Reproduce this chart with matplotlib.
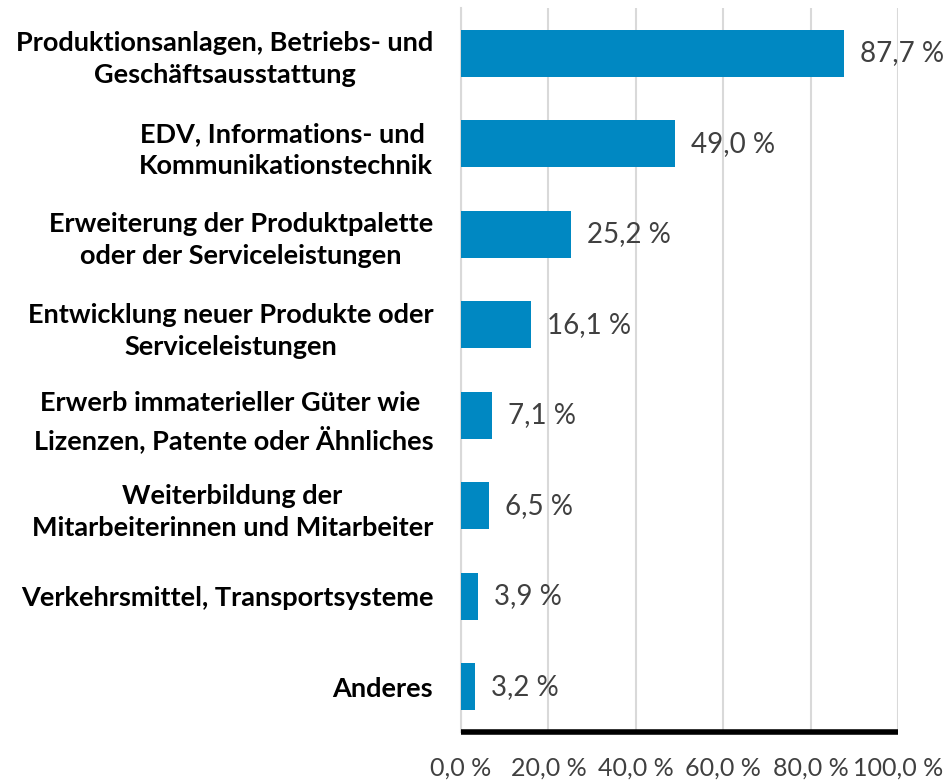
import matplotlib
matplotlib.use("Agg")
from matplotlib import pyplot as plt
import numpy as np

plt.rcParams['font.family'] = ['Lato', 'DejaVu Sans']

categories = [
    "Produktionsanlagen, Betriebs- und\nGeschäftsausstattung",
    "EDV, Informations- und \nKommunikationstechnik",
    "Erweiterung der Produktpalette\noder der Serviceleistungen",
    "Entwicklung neuer Produkte oder\nServiceleistungen",
    "Erwerb immaterieller Güter wie \nLizenzen, Patente oder Ähnliches",
    "Weiterbildung der\nMitarbeiterinnen und Mitarbeiter",
    "Verkehrsmittel, Transportsysteme",
    "Anderes",
]
values = [87.7, 49.0, 25.2, 16.1, 7.1, 6.5, 3.9, 3.2]
xticks = [0, 20, 40, 60, 80, 100]

BAR_COLOR = "#0088c2"
GRID_COLOR = "#d9d9d9"
TEXT_GREY = "#404040"

fig = plt.figure(figsize=(9.47, 7.8), dpi=100)
ax = fig.add_axes([0.4868, 0.0615, 0.4615, 0.9282])

y = np.arange(len(categories))
ax.barh(y, values, height=0.52, color=BAR_COLOR, zorder=3)

for yi, v in zip(y, values):
    ax.text(v + 3.6, yi, f"{v:.1f} %".replace(".", ","), va="center", ha="left",
            fontsize=20, color=TEXT_GREY, zorder=4)

ax.set_ylim(len(categories) - 0.5, -0.5)
ax.set_xlim(0, 100)
ax.set_xticks(xticks)
ax.set_xticklabels([f"{t:.1f} %".replace(".", ",") for t in xticks],
                   fontsize=18, color=TEXT_GREY)
ax.set_yticks(y)
ax.set_yticklabels(categories, fontsize=19.5, fontweight="bold", color="black",
                   multialignment="center", linespacing=1.4)

ax.tick_params(axis="both", length=0)
ax.tick_params(axis="y", pad=20)
ax.tick_params(axis="x", pad=18)
ax.grid(axis="x", color=GRID_COLOR, linewidth=1.5, zorder=0)
ax.set_axisbelow(True)

for side in ["top", "right"]:
    ax.spines[side].set_visible(False)
ax.spines["left"].set_color(GRID_COLOR)
ax.spines["left"].set_linewidth(1.5)
ax.spines["bottom"].set_color("black")
ax.spines["bottom"].set_linewidth(4)
ax.spines["bottom"].set_capstyle("butt")

fig.savefig("out.png", dpi=100)
